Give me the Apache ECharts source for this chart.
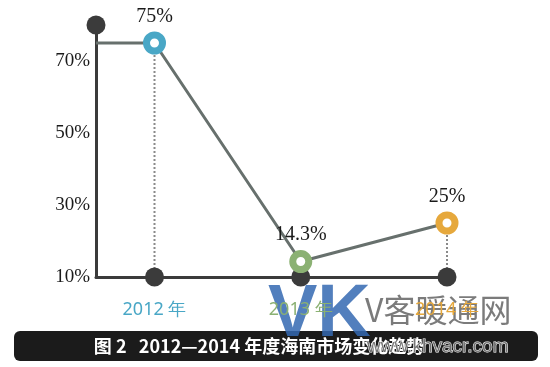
<!DOCTYPE html>
<html><head><meta charset="utf-8">
<script src="https://cdn.jsdelivr.net/npm/echarts@6/dist/echarts.min.js"></script>
<style>html,body{margin:0;padding:0;background:#fff}#c{width:550px;height:367px}</style>
</head><body><div id="c"></div>
<script>
var categories = ['2012 年', '2013 年', '2014 年'];
var values = [75, 14.3, 25];
var valueLabels = ['75%', '14.3%', '25%'];
var yTicks = [10, 30, 50, 70];
var catColors = ['#49a7c6', '#8bb173', '#e6a83c'];
var yMin = 10, yMax = 80, xMin = -0.4, xMax = 2;

var chart = echarts.init(document.getElementById('c'));
var xs = categories.map(function(_, i){ return i; });
var series = [];
// dotted drop lines
xs.forEach(function(x, i){
  series.push({type:'line', data:[[x, yMin],[x, values[i]]], symbol:'none', silent:true, z:1,
    lineStyle:{color:'#8a8a8a', width:2, type:[2,2]}});
});
// main trend line (starts at y-axis)
series.push({type:'line', data:[[xMin, values[0]]].concat(xs.map(function(x,i){return [x, values[i]];})),
  symbol:'none', z:2, lineStyle:{color:'#67706d', width:3}});
// axis dots
series.push({type:'scatter', data:xs.map(function(x){return [x, yMin];}).concat([[xMin, yMax]]),
  symbolSize:19, itemStyle:{color:'#3b3b3b', opacity:1}, z:5, clip:false});
// ring markers with labels
series.push({type:'scatter', z:6, clip:false,
  data:xs.map(function(x,i){return {value:[x, values[i]],
    itemStyle:{color:'#fff', borderColor:catColors[i], borderWidth:7, opacity:1},
    label:{formatter:valueLabels[i]}};}),
  symbolSize:16,
  label:{show:true, position:'top', distance:5, fontFamily:'Liberation Serif', fontSize:20, color:'#1a1a1a'}});

chart.setOption({
  animation:false,
  grid:{left:96, right:103, top:25, bottom:90},
  xAxis:{type:'value', min:xMin, max:xMax, splitLine:{show:false},
    axisLine:{show:true, onZero:false, lineStyle:{color:'#3b3b3b', width:3}},
    axisTick:{show:false},
    axisLabel:{customValues:xs, margin:24, fontFamily:'Noto Sans', fontSize:18,
      formatter:function(v){ var i=Math.round(v); return '{c'+i+'|'+categories[i]+'}'; },
      rich:{c0:{color:catColors[0], fontSize:18}, c1:{color:catColors[1], fontSize:18}, c2:{color:catColors[2], fontSize:18}}}},
  yAxis:{type:'value', min:yMin, max:yMax, splitLine:{show:false},
    axisLine:{show:true, onZero:false, lineStyle:{color:'#3b3b3b', width:3}},
    axisTick:{show:false},
    axisLabel:{customValues:yTicks, margin:6, fontFamily:'Liberation Serif', fontSize:19, color:'#1a1a1a',
      formatter:function(v){return v+'%';}}},
  series:series,
  graphic:[
    {type:'rect', left:14, top:331, shape:{width:524, height:30, r:6}, style:{fill:'#1b1b1b'}},
    {type:'text', x:259, y:346, style:{text:'图 2   2012—2014 年度海南市场变化趋势', fill:'#fff',
      font:'bold 18px "Noto Sans CJK SC"', align:'center', verticalAlign:'middle'}},
    {type:'text', x:268, y:316, style:{text:'VK', fill:'rgba(52,104,178,0.85)',
      font:'bold 74px "Liberation Sans"', align:'left', verticalAlign:'middle'}},
    {type:'text', x:365, y:310, style:{text:'V客暖通网', fill:'rgba(100,100,100,0.85)',
      font:'32px "Noto Sans CJK SC"', align:'left', verticalAlign:'middle'}},
    {type:'text', x:367, y:347, style:{text:'www.khvacr.com', fill:'rgba(110,110,110,0.9)',
      font:'19px "Liberation Sans"', align:'left', verticalAlign:'middle', stroke:'#fff', lineWidth:1}}
  ]
});
</script></body></html>
